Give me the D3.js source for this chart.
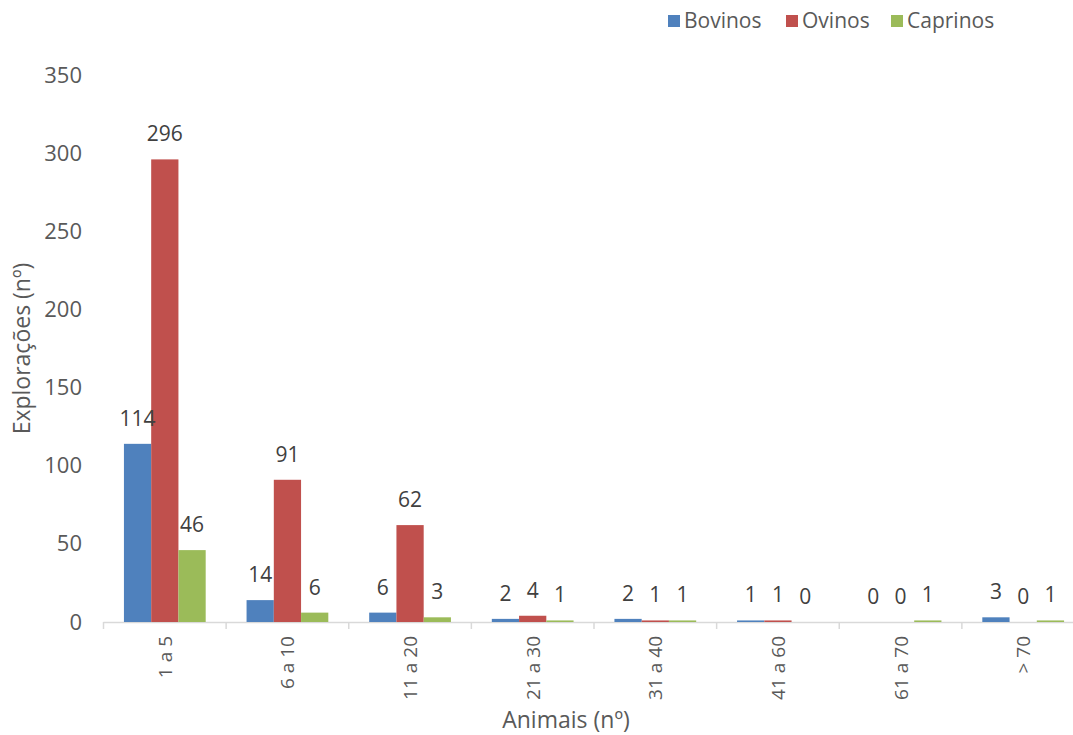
<!DOCTYPE html>
<html>
<head>
<meta charset="utf-8">
<script src="https://cdn.jsdelivr.net/npm/d3@7"></script>
<style>
	body { margin: 0; background: #fff; }
	svg { display: block; overflow: hidden; }
	text { font-family: 'Open Sans', sans-serif; fill: #595959; }
</style>
</head>
<body>
<main></main>
<script>
const categories = ['1 a 5', '6 a 10', '11 a 20', '21 a 30', '31 a 40', '41 a 60', '61 a 70', '> 70']
const seriesNames = ['Bovinos', 'Ovinos', 'Caprinos']
const bovinos = [114, 14, 6, 2, 2, 1, 0, 3]
const ovinos = [296, 91, 62, 4, 1, 1, 0, 0]
const caprinos = [46, 6, 3, 1, 1, 0, 1, 1]
const yTicks = [0, 50, 100, 150, 200, 250, 300, 350]
const colors = ['#4f81bd', '#c0504d', '#9bbb59']

const width = 1073
const height = 735
const margin = { left: 103.5, right: -11.5, top: 75, bottom: 113 }

const seriesValues = [bovinos, ovinos, caprinos]
const table = categories.map((c, i) => ({
	category: c,
	values: seriesNames.map((s, j) => ({ series: s, value: seriesValues[j][i] }))
}))

const svg = d3.select('main')
	.append('svg')
	.attr('width', width)
	.attr('height', height)

// Scales
const x0 = d3.scaleBand()
	.domain(categories)
	.range([margin.left, width - margin.right])
	.paddingInner(0)
	.paddingOuter(0)

const x1 = d3.scaleBand()
	.domain(seriesNames)
	.range([0, x0.bandwidth()])
	.paddingInner(0)
	.paddingOuter(0.75)

const y = d3.scaleLinear()
	.domain([0, 350])
	.range([height - margin.bottom, margin.top])

const color = d3.scaleOrdinal().domain(seriesNames).range(colors)

// Y axis (labels only)
const yAxis = d3.axisLeft(y)
	.tickValues(yTicks)
	.tickSize(0)
	.tickPadding(0)

svg.append('g')
	.attr('transform', `translate(82,0)`)
	.call(yAxis)
	.call(g => g.select('.domain').remove())
	.call(g => g.selectAll('text')
		.style('font-size', '22px')
		.style('font-family', "'Open Sans', sans-serif")
		.attr('fill', '#595959'))

// X axis line + ticks at band boundaries
const xg = svg.append('g')
xg.append('line')
	.attr('x1', x0.range()[0])
	.attr('x2', x0.range()[1])
	.attr('y1', y(0) + 0.5)
	.attr('y2', y(0) + 0.5)
	.attr('stroke', '#d9d9d9')
	.attr('stroke-width', 1.5)

xg.selectAll('line.tick')
	.data(categories.concat(['end']))
	.enter()
	.append('line')
	.attr('class', 'tick')
	.attr('x1', d => d === 'end' ? x0.range()[1] : x0(d))
	.attr('x2', d => d === 'end' ? x0.range()[1] : x0(d))
	.attr('y1', y(0))
	.attr('y2', y(0) + 7)
	.attr('stroke', '#d9d9d9')
	.attr('stroke-width', 1.5)

xg.selectAll('text.cat')
	.data(categories)
	.enter()
	.append('text')
	.attr('class', 'cat')
	.attr('transform', d => `translate(${x0(d) + x0.bandwidth() / 2 + 7},${y(0) + 14}) rotate(-90)`)
	.attr('text-anchor', 'end')
	.style('font-size', '19px')
	.text(d => d)

// Bars
const groups = svg.append('g')
	.selectAll('g')
	.data(table)
	.enter()
	.append('g')
	.attr('transform', d => `translate(${x0(d.category)},0)`)

groups.selectAll('rect')
	.data(d => d.values)
	.enter()
	.append('rect')
	.attr('x', d => x1(d.series))
	.attr('y', d => y(d.value))
	.attr('width', x1.bandwidth())
	.attr('height', d => y(0) - y(d.value))
	.attr('fill', d => color(d.series))

groups.selectAll('text')
	.data(d => d.values)
	.enter()
	.append('text')
	.attr('x', d => x1(d.series) + x1.bandwidth() / 2)
	.attr('y', d => y(d.value) - 18)
	.attr('text-anchor', 'middle')
	.style('font-size', '21px')
	.style('fill', '#404040')
	.text(d => d.value)

// Axis titles
svg.append('text')
	.attr('transform', `translate(30,${(y(0) + y(350)) / 2}) rotate(-90)`)
	.attr('text-anchor', 'middle')
	.style('font-size', '23px')
	.text('Explorações (nº)')

svg.append('text')
	.attr('x', 566)
	.attr('y', 728)
	.attr('text-anchor', 'middle')
	.style('font-size', '23px')
	.text('Animais (nº)')

// Legend
const legendX = [668, 786, 891]
const legend = svg.append('g')
	.selectAll('g')
	.data(seriesNames)
	.enter()
	.append('g')
	.attr('transform', (d, i) => `translate(${legendX[i]},15)`)

legend.append('rect')
	.attr('width', 12)
	.attr('height', 12)
	.attr('fill', d => color(d))

legend.append('text')
	.attr('x', 16)
	.attr('y', 13)
	.style('font-size', '21px')
	.text(d => d)
</script>
</body>
</html>
